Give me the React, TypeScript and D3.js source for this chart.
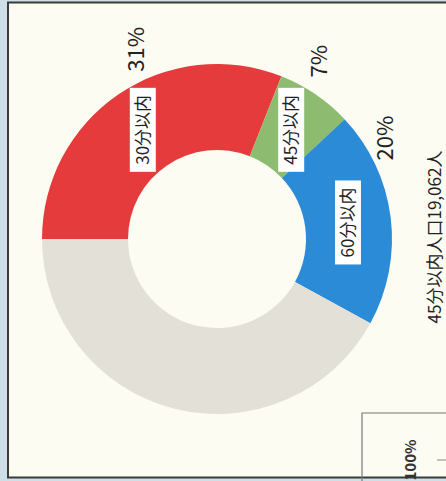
import React, { useRef, useEffect } from "react";
import * as d3 from "d3";

const categories = ["30分以内", "45分以内", "60分以内", "その他"];
const values = [31, 7, 20, 42];
const pctLabels = ["31%", "7%", "20%", ""];
const colors = ["#e53b3d", "#8dbb6f", "#2c8bd7", "#e3e1d7"];
const totalLabel = "45分以内人口19,062人";
const cornerLabel = "100%";

const FONT = "'Noto Sans CJK JP', 'Noto Sans', sans-serif";

const App = () => {
  const ref = useRef<SVGSVGElement>(null);
  const width = 446;
  const height = 481;

  useEffect(() => {
    const svg = d3.select(ref.current);
    svg.selectAll("*").remove();

    // paper + frame
    svg.append("rect").attr("width", width).attr("height", height).attr("fill", "#cfdfe8");
    svg.append("rect").attr("x", 8).attr("y", 2).attr("width", width - 8).attr("height", 476).attr("fill", "#fcfcf2");
    svg
      .append("path")
      .attr("d", `M${width},2.5 H8 V477.5 H${width}`)
      .attr("fill", "none")
      .attr("stroke", "#3b3b3b")
      .attr("stroke-width", 2);

    const cx = 217;
    const cy = 239;
    const inner = 89;
    const outer = 175;

    const pie = d3
      .pie<number>()
      .sort(null)
      .value((d) => d)
      .startAngle(-Math.PI / 2)
      .endAngle((3 * Math.PI) / 2);
    const arcs = pie(values);
    const arc = d3.arc<d3.PieArcDatum<number>>().innerRadius(inner).outerRadius(outer);

    const g = svg.append("g").attr("transform", `translate(${cx},${cy})`);

    g.selectAll("path.slice")
      .data(arcs)
      .join("path")
      .attr("class", "slice")
      .attr("d", arc)
      .attr("fill", (d, i) => colors[i]);

    // name boxes (rotated, reading bottom to top)
    const named = arcs.filter((d, i) => i < 3);
    const box = g
      .selectAll("g.box")
      .data(named)
      .join("g")
      .attr("class", "box")
      .attr("transform", (d) => {
        const [x, y] = arc.centroid(d);
        return `translate(${x},${y}) rotate(-90)`;
      });
    box
      .append("rect")
      .attr("x", -42)
      .attr("y", -13)
      .attr("width", 84)
      .attr("height", 26)
      .attr("fill", "#ffffff");
    box
      .append("text")
      .attr("text-anchor", "middle")
      .attr("dy", "0.36em")
      .attr("font-family", FONT)
      .attr("font-size", 17)
      .attr("fill", "#222")
      .text((d) => categories[d.index]);

    // percent labels outside the ring
    const pctAt = [0.6, 0.33, 0.17];
    const pctR = [206, 205, 196];
    g.selectAll("text.pct")
      .data(named)
      .join("text")
      .attr("class", "pct")
      .attr("transform", (d) => {
        const a = d.startAngle + (d.endAngle - d.startAngle) * pctAt[d.index];
        const r = pctR[d.index];
        return `translate(${r * Math.sin(a)},${-r * Math.cos(a)}) rotate(-90)`;
      })
      .attr("text-anchor", "middle")
      .attr("dy", "0.36em")
      .attr("font-family", FONT)
      .attr("font-size", 22)
      .attr("fill", "#222")
      .text((d) => pctLabels[d.index]);

    // side caption
    svg
      .append("text")
      .attr("transform", `translate(435,237) rotate(-90)`)
      .attr("text-anchor", "middle")
      .attr("dy", "0.36em")
      .attr("font-family", FONT)
      .attr("font-size", 17)
      .attr("fill", "#222")
      .text(totalLabel);

    // corner box of the next chart
    svg
      .append("path")
      .attr("d", `M362,${height} V413 H${width}`)
      .attr("fill", "none")
      .attr("stroke", "#777")
      .attr("stroke-width", 1.2);
    svg
      .append("line")
      .attr("x1", 437)
      .attr("x2", width)
      .attr("y1", 460)
      .attr("y2", 460)
      .attr("stroke", "#888");
    svg
      .append("text")
      .attr("transform", `translate(411,460) rotate(-90)`)
      .attr("text-anchor", "middle")
      .attr("dy", "0.36em")
      .attr("font-family", FONT)
      .attr("font-weight", "bold")
      .attr("font-size", 15)
      .attr("fill", "#333")
      .text(cornerLabel);
  }, []);

  return (
    <svg
      ref={ref}
      width={width}
      height={height}
      style={{ position: "absolute", left: 0, top: 0, display: "block" }}
    />
  );
};

export default App;
